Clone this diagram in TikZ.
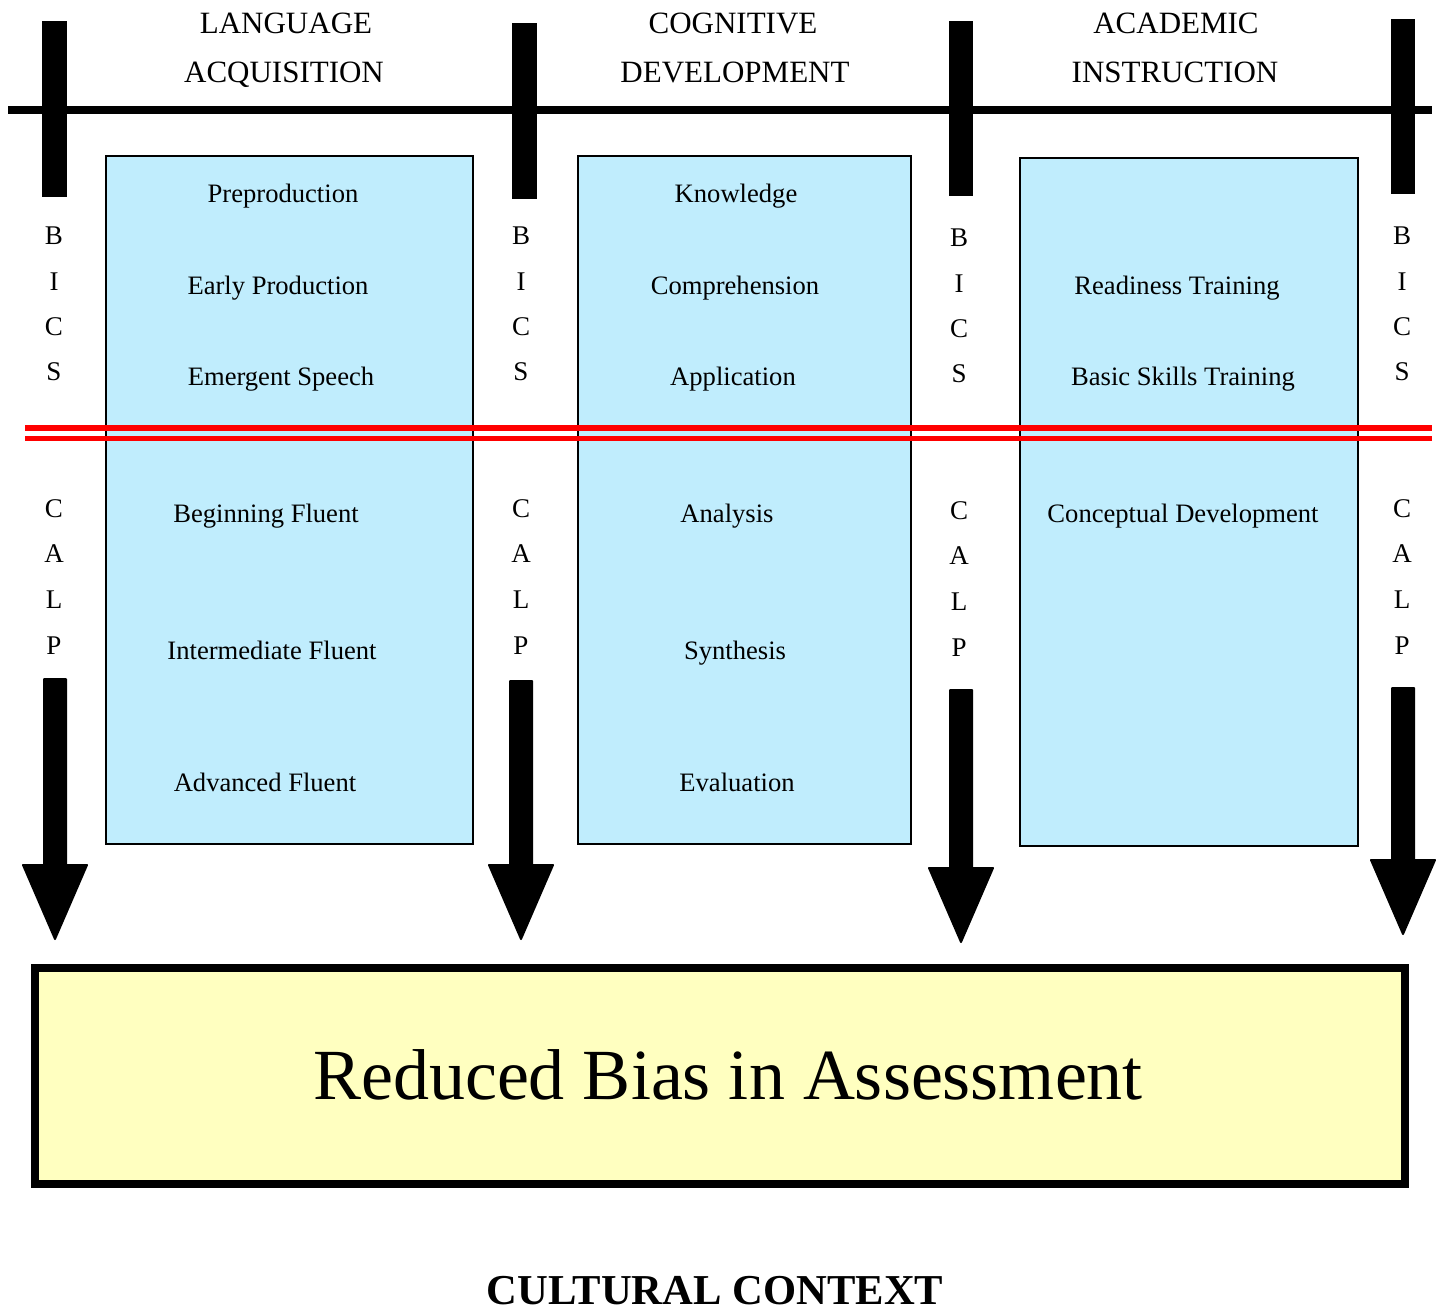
\documentclass[tikz,border=0pt]{standalone}
\usepackage{fontspec}
\setmainfont{Liberation Serif}
\definecolor{boxblue}{RGB}{192,237,253}
\definecolor{boxyellow}{RGB}{255,255,192}
\definecolor{redline}{RGB}{255,0,0}
\begin{document}
\begin{tikzpicture}[x=1pt,y=-1pt,
  txt/.style={font=\fontsize{26.6}{30}\selectfont, anchor=base, inner sep=0pt},
  ttl/.style={font=\fontsize{31}{34}\selectfont, anchor=base, inner sep=0pt},
  lett/.style={font=\fontsize{27}{30}\selectfont, anchor=base, inner sep=0pt},
  bluebox/.style={draw=black, line width=2.5pt, fill=boxblue, inner sep=0pt},
  barshape/.style={fill=black},
  bigarrow/.style={fill=black, draw=black, line width=2pt, line join=round},
  redl/.style={draw=redline, line width=5.5pt},
]
\useasboundingbox (0,0) rectangle (1441,1311);
\fill[white] (0,0) rectangle (1441,1311);

% boxes
\node[bluebox, minimum width=367pt, minimum height=688pt] (box1) at (289.5,500) {};
\node[bluebox, minimum width=333pt, minimum height=688pt] (box2) at (744.5,500) {};
\node[bluebox, minimum width=338pt, minimum height=688pt] (box3) at (1189,502) {};

% horizontal timeline
\coordinate (hl) at (8,110);
\coordinate (hr) at (1432,110);
\draw[line width=8pt] (hl) -- (hr);

% vertical bars
\fill[barshape] (42,21) rectangle (67,197);
\fill[barshape] (512,23) rectangle (537,199);
\fill[barshape] (949,21) rectangle (973,196);
\fill[barshape] (1391,19) rectangle (1415,194);

% titles
\node[ttl] (t1a) at (286,34) {LANGUAGE};
\node[ttl] (t1b) at (284,83) {ACQUISITION};
\node[ttl] (t2a) at (733,34) {COGNITIVE};
\node[ttl] (t2b) at (735,83) {DEVELOPMENT};
\node[ttl] (t3a) at (1176,34) {ACADEMIC};
\node[ttl] (t3b) at (1175,83) {INSTRUCTION};

% box texts
\node[txt] (a1) at (283,203) {Preproduction};
\node[txt] (a2) at (278,294) {Early Production};
\node[txt] (a3) at (281,385) {Emergent Speech};
\node[txt] (a4) at (266,522) {Beginning Fluent};
\node[txt] (a5) at (272,659) {Intermediate Fluent};
\node[txt] (a6) at (265,791) {Advanced Fluent};

\node[txt] (b1) at (736,203) {Knowledge};
\node[txt] (b2) at (735,294) {Comprehension};
\node[txt] (b3) at (733,385) {Application};
\node[txt] (b4) at (727,522) {Analysis};
\node[txt] (b5) at (735,659) {Synthesis};
\node[txt] (b6) at (737,791) {Evaluation};

\node[txt] (c1) at (1177,294) {Readiness Training};
\node[txt] (c2) at (1183,385) {Basic Skills Training};
\node[txt] (c3) at (1183,522) {Conceptual Development};

% BICS / CALP letters
\foreach \cx/\dy [count=\i] in {54/0,521/0,959/2,1402/0}{
  \node[lett] (bB\i) at (\cx,244+\dy) {B};
  \node[lett] (bI\i) at (\cx,290+\dy) {I};
  \node[lett] (bC\i) at (\cx,335+\dy) {C};
  \node[lett] (bS\i) at (\cx,380+\dy) {S};
  \node[lett] (cC\i) at (\cx,517+\dy) {C};
  \node[lett] (cA\i) at (\cx,562+\dy) {A};
  \node[lett] (cL\i) at (\cx,608+\dy) {L};
  \node[lett] (cP\i) at (\cx,654+\dy) {P};
}

% red double line
\coordinate (rl1) at (25,428);
\coordinate (rr1) at (1432,428);
\coordinate (rl2) at (25,438.5);
\coordinate (rr2) at (1432,438.5);
\draw[redl] (rl1) -- (rr1);
\draw[redl] (rl2) -- (rr2);

% big arrows
\foreach \cx/\top/\hb/\tip in {55/679/865/939, 521/681/865/939, 961/690/868/942, 1403/688/860/934}{
  \filldraw[bigarrow] (\cx-11,\top) -- (\cx+11,\top) -- (\cx+11,\hb) -- (\cx+32,\hb)
    -- (\cx,\tip) -- (\cx-32,\hb) -- (\cx-11,\hb) -- cycle;
}

% result box
\node[draw=black, line width=8pt, fill=boxyellow, minimum width=1370pt, minimum height=216pt, inner sep=0pt] (res) at (720,1076) {};
\node[font=\fontsize{72}{80}\selectfont, anchor=base, inner sep=0pt] (restxt) at (728,1099) {Reduced Bias in Assessment};

% cultural context
\node[font=\fontsize{42.6}{46}\selectfont\bfseries, anchor=base, inner sep=0pt] (cult) at (715,1304) {CULTURAL CONTEXT};
\end{tikzpicture}
\end{document}
